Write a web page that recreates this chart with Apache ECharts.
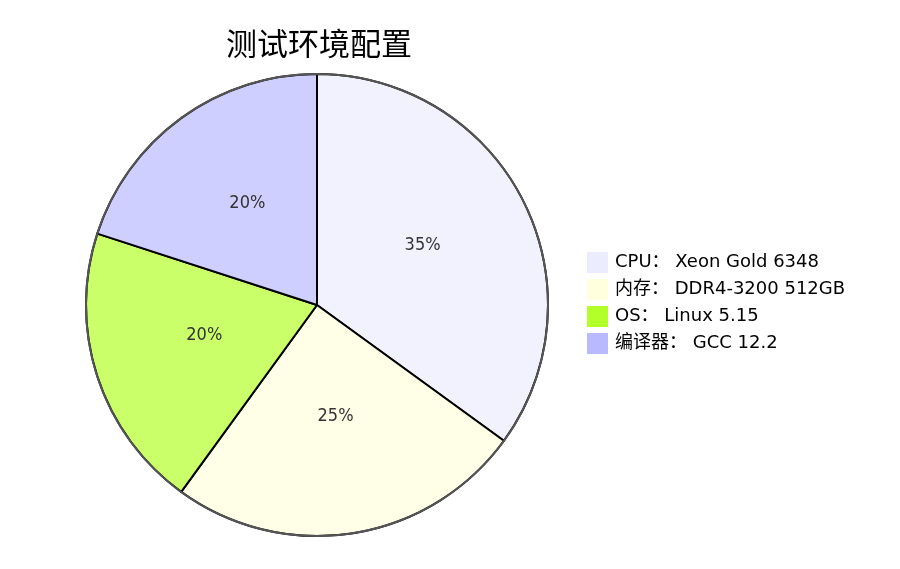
<!DOCTYPE html>
<html><head><meta charset="utf-8">
<script src="https://cdn.jsdelivr.net/npm/echarts@6/dist/echarts.min.js"></script>
<style>html,body{margin:0;padding:0;background:#fff}#c{width:900px;height:569px}</style>
</head><body><div id="c"></div>
<script>
const titleText = '测试环境配置';
const categories = ['CPU： Xeon Gold 6348', '内存： DDR4-3200 512GB', 'OS： Linux 5.15', '编译器： GCC 12.2'];
const values = [35, 25, 20, 20];
const legendColors = ['#ECECFF', '#FFFFDE', '#B3FF29', '#B9B9FF'];
const sliceColors = ['#F2F2FF', '#FFFFE8', '#CBFF69', '#CECEFF'];

const legendFont = '"DejaVu Sans", "Noto Sans CJK SC", sans-serif';
const labelFont = '"DejaVu Sans Condensed", "DejaVu Sans", sans-serif';
const chart = echarts.init(document.getElementById('c'));
chart.setOption({
  animation: false,
  title: {
    text: titleText, left: 314, top: 23, textAlign: 'center',
    textStyle: { fontSize: 31, fontWeight: 'normal', color: '#000', fontFamily: '"Noto Sans CJK SC", sans-serif' }
  },
  legend: {
    orient: 'vertical', left: 582, top: 247,
    itemWidth: 21, itemHeight: 21, itemGap: 6,
    icon: 'rect',
    textStyle: { fontSize: 18, color: '#000', fontFamily: legendFont, padding: [0, 0, 0, 2] },
    data: categories.map((c, i) => ({ name: c, itemStyle: { color: legendColors[i], borderWidth: 0 } })),
    selectedMode: false
  },
  series: [{
    type: 'pie', center: [317, 305], radius: 231,
    startAngle: 90, clockwise: true, silent: true,
    itemStyle: { borderColor: '#000', borderWidth: 2 },
    label: {
      position: 'inside', formatter: p => Math.round(p.percent) + '%',
      fontSize: 18, color: '#333', fontFamily: labelFont, offset: [0, -6]
    },
    labelLine: { show: false },
    data: categories.map((c, i) => ({ name: c, value: values[i], itemStyle: { color: sliceColors[i] } }))
  }, {
    type: 'pie', center: [317, 305], radius: 231, silent: true,
    label: { show: false }, labelLine: { show: false },
    legendHoverLink: false,
    itemStyle: { color: 'none', borderColor: '#555', borderWidth: 2 },
    data: [{ name: '__outline', value: 1 }]
  }]
});
</script></body></html>
